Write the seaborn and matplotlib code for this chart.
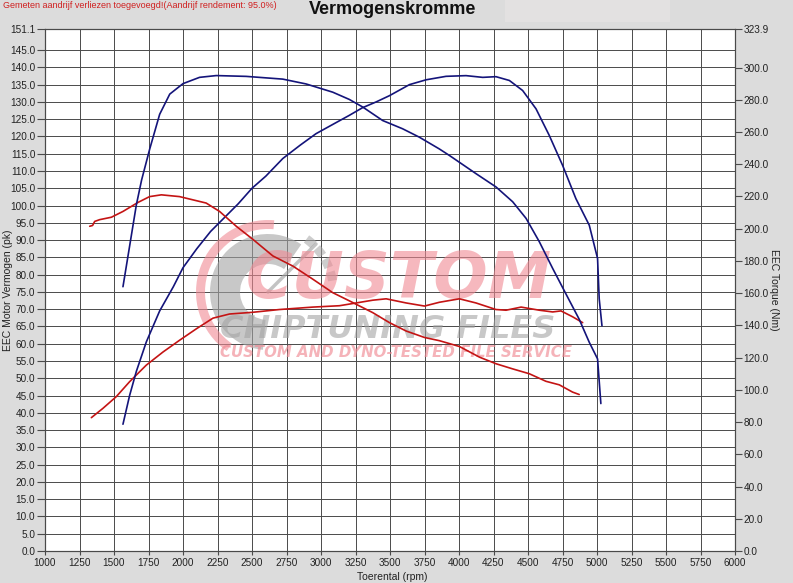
import numpy as np
import pandas as pd
import matplotlib
matplotlib.use("Agg")
import matplotlib.pyplot as plt
from matplotlib.patches import Wedge, Rectangle
from matplotlib.transforms import IdentityTransform
import seaborn as sns

# --- data ---
# stock power (pk)
rpm_pow_stock = [1336, 1420, 1517, 1613, 1734, 1855, 1975, 2096, 2217, 2337, 2506, 2699,
                 2940, 3134, 3255, 3375, 3472, 3617, 3750, 3858, 4003, 4123, 4268, 4341,
                 4450, 4582, 4679, 4739, 4823, 4896]
pk_stock = [38.6, 41.3, 44.7, 49.0, 53.8, 57.6, 61.0, 64.3, 67.4, 68.6, 69.1, 69.9,
            70.6, 71.0, 71.8, 72.6, 73.0, 71.8, 70.9, 72.0, 73.0, 71.8, 69.9, 69.7,
            70.6, 69.7, 69.2, 69.5, 67.8, 66.1]

# stock torque (Nm)
rpm_tq_stock = [1324, 1345, 1360, 1396, 1481, 1565, 1674, 1758, 1843, 1975, 2168, 2265,
                2386, 2506, 2651, 2796, 2940, 3085, 3206, 3375, 3496, 3617, 3750, 3858,
                4003, 4148, 4268, 4389, 4509, 4630, 4727, 4823, 4871]
nm_stock = [201.5, 202.0, 204.5, 205.6, 207.1, 210.7, 216.3, 219.9, 221.0, 219.9, 215.9, 210.7,
            201.5, 193.4, 183.1, 176.8, 168.7, 160.3, 155.2, 147.9, 141.7, 136.5, 132.5, 130.5,
            126.9, 120.3, 116.2, 113.0, 110.0, 105.3, 103.1, 98.6, 97.1]

# tuned power (pk)
rpm_pow_tuned = [1565, 1613, 1662, 1734, 1831, 1930, 2000, 2100, 2200, 2300, 2400, 2500,
                 2600, 2723, 2850, 2964, 3100, 3205, 3300, 3400, 3496, 3641, 3762, 3906,
                 4051, 4172, 4268, 4365, 4461, 4558, 4654, 4751, 4847, 4944, 5004, 5016, 5036]
pk_tuned = [36.7, 45.0, 52.0, 60.5, 69.5, 76.5, 82.0, 87.5, 92.5, 96.5, 100.5, 105.0,
            108.5, 113.6, 117.5, 120.8, 123.8, 126.1, 128.3, 130.0, 131.8, 135.0, 136.4, 137.4,
            137.6, 137.1, 137.3, 136.2, 133.3, 128.0, 120.3, 111.6, 102.0, 94.3, 84.7, 73.0, 65.2]

# tuned torque (Nm)
rpm_tq_tuned = [1565, 1613, 1662, 1700, 1759, 1831, 1904, 2000, 2120, 2241, 2458, 2723,
                2892, 3085, 3205, 3302, 3447, 3591, 3712, 3857, 3931, 4124, 4268, 4389,
                4486, 4582, 4679, 4775, 4871, 4944, 5004, 5028]
nm_tuned = [164.0, 189.1, 214.8, 230.2, 249.5, 271.0, 283.5, 290.0, 293.9, 295.0, 294.5, 292.8,
            289.8, 284.7, 280.2, 275.5, 267.1, 262.0, 256.8, 249.5, 245.4, 234.1, 225.9, 216.7,
            206.4, 191.9, 175.3, 159.5, 143.8, 129.5, 119.2, 91.5]

x_ticks = list(range(1000, 6001, 250))
pk_ticks = list(range(0, 146, 5)) + [151.1]
nm_ticks = list(range(0, 301, 20)) + [323.9]

BG = "#dcdcdc"
BLUE = "#14147a"
RED = "#c41414"
PINK = "#f08a94"
GREY = "#a4a4a4"

sns.set_theme(style="white")
plt.rcParams["font.family"] = ["Liberation Sans", "DejaVu Sans"]

fig = plt.figure(figsize=(7.93, 5.83), dpi=100, facecolor=BG)
ax = fig.add_axes([45 / 793, 32 / 583, 690 / 793, 522 / 583])
ax2 = ax.twinx()

# faint lighter box at the top right of the sheet
fig.patches.append(Rectangle((505 / 793, 1 - 22 / 583), 165 / 793, 22 / 583,
                             transform=fig.transFigure, facecolor="#e3e1e1",
                             edgecolor="none", zorder=0))

ax.set_facecolor("white")
ax.set_xlim(1000, 6000)
ax.set_ylim(0, 151.1)
ax2.set_ylim(0, 323.9)
ax.set_xticks(x_ticks)
ax.set_xticklabels([str(v) for v in x_ticks])
ax.set_yticks(pk_ticks)
ax.set_yticklabels([f"{v:.1f}" for v in pk_ticks])
ax2.set_yticks(nm_ticks)
ax2.set_yticklabels([f"{v:.1f}" for v in nm_ticks])

ax.set_axisbelow(True)
ax.grid(True, color="#4a4a4a", linewidth=0.7)
ax2.grid(False)

for a in (ax, ax2):
    for s in a.spines.values():
        s.set_color("#4a4a4a")
        s.set_linewidth(0.8)
ax.tick_params(axis="y", length=6, width=0.8, color="#4a4a4a", labelsize=7.2,
               labelcolor="#222222", pad=1, left=True)
ax.tick_params(axis="x", length=3, width=0.8, color="#4a4a4a", labelsize=7.2,
               labelcolor="#222222", pad=2, bottom=True)
ax2.tick_params(axis="y", length=5, width=0.8, color="#4a4a4a", labelsize=7.2,
                labelcolor="#222222", pad=1, right=True)

# watermark (under the curves)
wm = dict(transform=fig.transFigure, zorder=1.5, style="oblique", weight="bold",
          ha="left", va="baseline", family="DejaVu Sans")
ax.text(246 / 793, 1 - 298 / 583, "CUSTOM", fontsize=46, color=PINK, alpha=0.6, **wm)
ax.text(220 / 793, 1 - 338 / 583, "CHIPTUNING FILES", fontsize=23, color=GREY, alpha=0.6, **wm)
ax.text(220 / 793, 1 - 357 / 583, "CUSTOM AND DYNO-TESTED FILE SERVICE", fontsize=10.8,
        color=PINK, alpha=0.65, **wm)
cx, cy = 268, 583 - 292
ax.add_patch(Wedge((cx, cy), 58, 55, 265, width=30, transform=IdentityTransform(),
                   facecolor=GREY, edgecolor="none", alpha=0.6, zorder=1.4))
ax.add_patch(Wedge((cx, cy), 72, 85, 235, width=9, transform=IdentityTransform(),
                   facecolor=PINK, edgecolor="none", alpha=0.6, zorder=1.4))
for t0 in (10, 22, 34, 46):
    ax.add_patch(Wedge((cx, cy), 70, t0, t0 + 8, width=9, transform=IdentityTransform(),
                       facecolor=GREY, edgecolor="none", alpha=0.55, zorder=1.4))
ax.plot([cx, cx + 48], [cy, cy + 48], transform=IdentityTransform(), color=GREY,
        lw=2.5, alpha=0.65, zorder=1.45)

# power curves on the left axis
sns.lineplot(x=rpm_pow_stock, y=pk_stock, ax=ax, color=RED, linewidth=1.2,
             estimator=None, sort=False, zorder=2)
sns.lineplot(x=rpm_pow_tuned, y=pk_tuned, ax=ax, color=BLUE, linewidth=1.2,
             estimator=None, sort=False, zorder=2)
# torque curves on the right axis
sns.lineplot(x=rpm_tq_stock, y=nm_stock, ax=ax2, color=RED, linewidth=1.2,
             estimator=None, sort=False)
sns.lineplot(x=rpm_tq_tuned, y=nm_tuned, ax=ax2, color=BLUE, linewidth=1.2,
             estimator=None, sort=False)

ax.set_xlabel("")
ax.set_ylabel("")
ax2.set_ylabel("")

fig.text(392 / 793, 1 - 577 / 583, "Toerental (rpm)", ha="center", va="center",
         fontsize=7.5, color="#222222")
fig.text(8 / 793, 1 - 290 / 583, "EEC Motor Vermogen (pk)", rotation=90, ha="center",
         va="center", fontsize=7.5, color="#222222")
fig.text(774 / 793, 1 - 290 / 583, "EEC Torque (Nm)", rotation=270, ha="center",
         va="center", fontsize=7.5, color="#222222")
fig.text(393 / 793, 1 - 10 / 583, "Vermogenskromme", ha="center", va="center",
         fontsize=13, weight="bold", color="#111111")
fig.text(3 / 793, 1 - 6 / 583, "Gemeten aandrijf verliezen toegevoegd!(Aandrijf rendement: 95.0%)",
         ha="left", va="center", fontsize=6.5, color="#d02020")

fig.savefig("out.png", dpi=100, facecolor=BG)
